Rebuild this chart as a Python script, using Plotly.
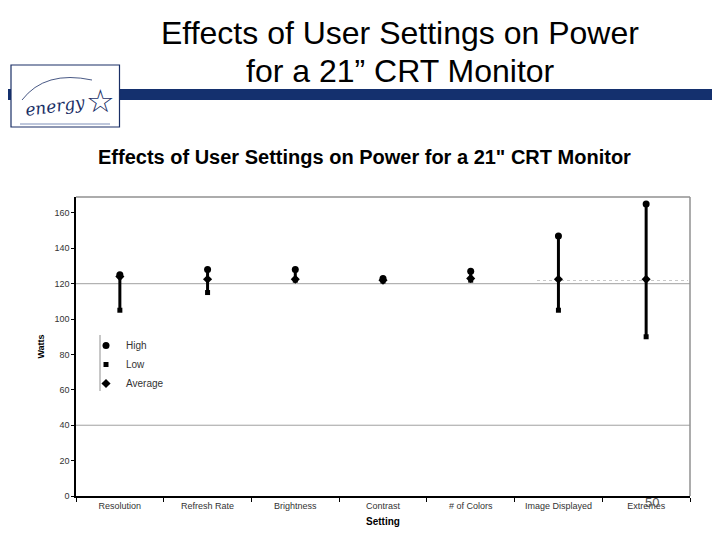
import plotly.graph_objects as go

categories = ["Resolution", "Refresh Rate", "Brightness", "Contrast",
              "# of Colors", "Image Displayed", "Extremes"]
high = [125, 128, 128, 123, 127, 147, 165]
low = [105, 115, 122, 121.5, 122, 105, 90]
average = [124, 122.5, 122.5, 122, 123, 122.5, 122.5]
y_ticks = [0, 20, 40, 60, 80, 100, 120, 140, 160]

OFF = 8  # page body margin
W, H = 720 - OFF, 540 - OFF
L, R, T, B = 76 - OFF, 690 - OFF, 197 - OFF, 496 - OFF  # plot area in figure pixels


def xp(px):
    return (px - OFF - L) / (R - L)


def yp(py):
    return (B - (py - OFF)) / (B - T)


fig = go.Figure()

# high-low lines
lx, ly = [], []
for c, h, l in zip(categories, high, low):
    lx += [c, c, None]
    ly += [l, h, None]
fig.add_trace(go.Scatter(x=lx, y=ly, mode="lines", line=dict(color="black", width=3),
                         showlegend=False, hoverinfo="skip"))

fig.add_trace(go.Scatter(x=categories, y=high, mode="markers", name="High",
                         marker=dict(symbol="circle", size=7, color="black")))
fig.add_trace(go.Scatter(x=categories, y=low, mode="markers", name="Low",
                         marker=dict(symbol="square", size=5, color="black")))
fig.add_trace(go.Scatter(x=categories, y=average, mode="markers", name="Average",
                         marker=dict(symbol="diamond", size=7, color="black")))

shapes = []
for g in [40, 120]:
    shapes.append(dict(type="line", xref="paper", yref="y", x0=0, x1=1, y0=g, y1=g,
                       line=dict(color="#a0a0a0", width=1), layer="below"))
shapes.append(dict(type="line", xref="paper", yref="paper", x0=xp(537), x1=xp(688),
                   y0=yp(280.5), y1=yp(280.5),
                   line=dict(color="#c8c8c8", width=1, dash="dot"), layer="below"))
shapes.append(dict(type="line", xref="paper", yref="paper", x0=0, x1=1, y0=1, y1=1,
                   line=dict(color="#909090", width=1.5)))
shapes.append(dict(type="line", xref="paper", yref="paper", x0=1, x1=1, y0=0, y1=1,
                   line=dict(color="#909090", width=1.5)))
shapes.append(dict(type="line", xref="paper", yref="paper", x0=xp(100), x1=xp(100),
                   y0=yp(335), y1=yp(391), line=dict(color="#909090", width=1)))
shapes.append(dict(type="rect", xref="paper", yref="paper", x0=xp(-10), x1=xp(730),
                   y0=yp(100), y1=yp(89), fillcolor="#14306e", line=dict(width=0)))
shapes.append(dict(type="rect", xref="paper", yref="paper", x0=xp(11), x1=xp(119.5),
                   y0=yp(127), y1=yp(65), fillcolor="white",
                   line=dict(color="#1a2f66", width=1.2)))
shapes.append(dict(type="line", xref="paper", yref="paper", x0=xp(20), x1=xp(110),
                   y0=yp(124), y1=yp(124), line=dict(color="#a8b4d0", width=1.5)))
shapes.append(dict(type="path", xref="paper", yref="paper",
                   path=f"M {xp(22)},{yp(100)} Q {xp(45)},{yp(70)} {xp(92)},{yp(80)}",
                   line=dict(color="#1a2f66", width=0.8)))

annotations = [
    dict(text="Effects of User Settings on Power", x=xp(400), y=yp(33), xref="paper", yref="paper",
         showarrow=False, font=dict(family="Liberation Sans", size=32, color="black"),
         xanchor="center", yanchor="middle"),
    dict(text="for a 21\u201d CRT Monitor", x=xp(400), y=yp(71), xref="paper", yref="paper",
         showarrow=False, font=dict(family="Liberation Sans", size=32, color="black"),
         xanchor="center", yanchor="middle"),
    dict(text="<i>energy</i>", x=xp(55), y=yp(106), xref="paper", yref="paper",
         showarrow=False, font=dict(family="DejaVu Serif", size=17, color="#1a2f66"),
         xanchor="center", yanchor="middle", textangle=-8),
    dict(text="\u2606", x=xp(100), y=yp(101), xref="paper", yref="paper",
         showarrow=False, font=dict(family="DejaVu Sans", size=32, color="#1a2f66"),
         xanchor="center", yanchor="middle"),
    dict(text="<b>Effects of User Settings on Power for a 21\" CRT Monitor</b>", x=xp(364),
         y=yp(157), xref="paper", yref="paper", showarrow=False,
         font=dict(family="Liberation Sans", size=20, color="black"),
         xanchor="center", yanchor="middle"),
    dict(text="50", x=xp(652), y=yp(502), xref="paper", yref="paper", showarrow=False,
         font=dict(family="Liberation Sans", size=13, color="#555555"),
         xanchor="center", yanchor="middle"),
]

fig.update_layout(
    width=W, height=H,
    margin=dict(l=L, r=W - R, t=T, b=H - B, pad=0),
    paper_bgcolor="white", plot_bgcolor="white",
    shapes=shapes, annotations=annotations,
    showlegend=True,
    legend=dict(x=xp(86), y=yp(331), xanchor="left", yanchor="top",
                font=dict(family="Liberation Sans", size=10, color="#333333"),
                bgcolor="rgba(0,0,0,0)", tracegroupgap=0, itemwidth=30),
    xaxis=dict(type="category", range=[-0.5, 6.5], showgrid=False, zeroline=False,
               showline=True, linecolor="black", linewidth=1.5,
               ticks="outside", ticklen=4, tickcolor="black", tickson="boundaries",
               tickfont=dict(family="Liberation Sans", size=9, color="#333333"),
               title=dict(text="<b>Setting</b>", standoff=8,
                          font=dict(family="Liberation Sans", size=10, color="black"))),
    yaxis=dict(range=[0, 169], tickvals=y_ticks, showgrid=False, zeroline=False,
               showline=True, linecolor="black", linewidth=1.5,
               ticks="outside", ticklen=3, tickcolor="black",
               tickfont=dict(family="Liberation Sans", size=9, color="#333333"),
               title=dict(text="<b>Watts</b>", standoff=8,
                          font=dict(family="Liberation Sans", size=9, color="black"))),
)

fig.write_html("out.html")
